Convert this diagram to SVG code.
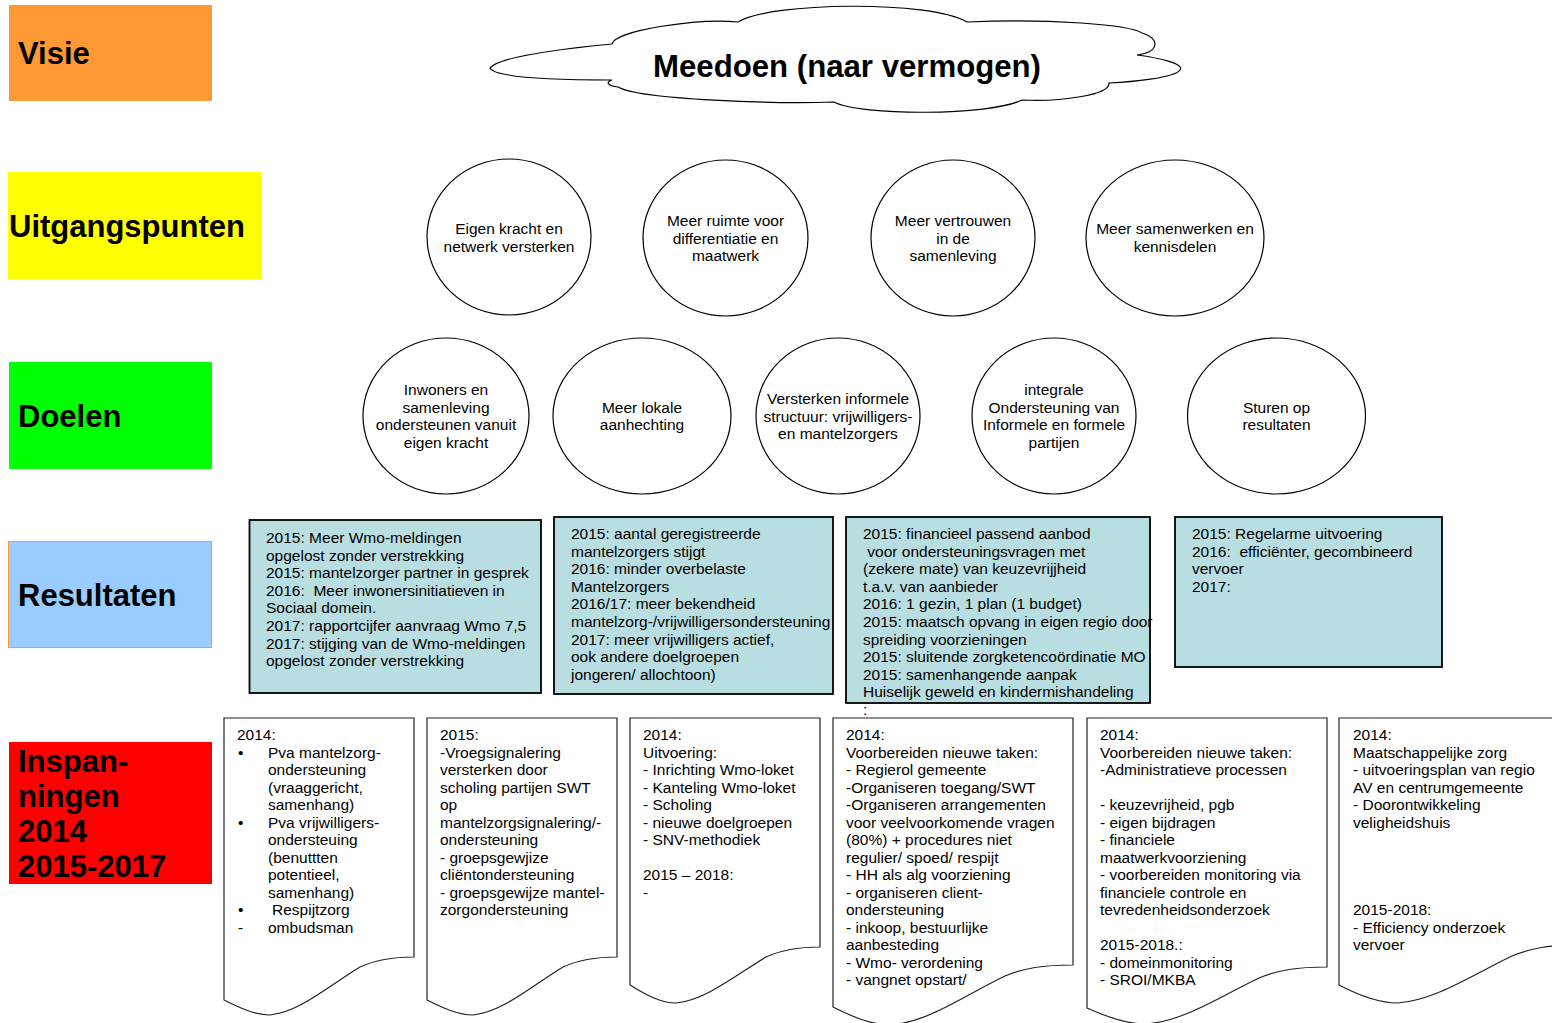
<svg xmlns="http://www.w3.org/2000/svg" width="1552" height="1023" viewBox="0 0 1552 1023">
<style>
.lbl{font-family:"Liberation Sans",Arial,sans-serif;font-weight:bold;font-size:31px;fill:#000}
.t{font-family:"Liberation Sans",Arial,sans-serif;font-size:15.5px;fill:#000}
.c{text-anchor:middle}
.circ{fill:#fff;stroke:#000;stroke-width:1.2}
.res{fill:#B9DEE2;stroke:#000;stroke-width:1.8}
.doc{fill:#fff;stroke:#222;stroke-width:1.2}
</style>
<rect width="1552" height="1023" fill="#fff"/>

<g id="label-visie"><rect x="9" y="5" width="203" height="96" fill="#FF9933"/><text class="lbl" x="18" y="64">Visie</text></g>
<g id="label-uitgangspunten"><rect x="8" y="172" width="254" height="107" fill="#FFFF00"/><text class="lbl" x="9" y="237">Uitgangspunten</text></g>
<g id="label-doelen"><rect x="9" y="362" width="203" height="107" fill="#00FF00"/><text class="lbl" x="18" y="427">Doelen</text></g>
<g id="label-resultaten"><rect x="8.5" y="541.5" width="203" height="106" fill="#99CCFF" stroke="#FF9933" stroke-width="1"/><text class="lbl" x="18" y="606">Resultaten</text></g>
<g id="label-inspanningen"><rect x="9" y="742" width="203" height="142" fill="#FF0000"/>
<text class="lbl" x="18"><tspan x="18" y="772">Inspan-</tspan><tspan x="18" y="807">ningen</tspan><tspan x="18" y="842">2014</tspan><tspan x="18" y="877">2015-2017</tspan></text></g>

<g id="visie-cloud">
<path fill="#fff" stroke="#000" stroke-width="1.2" d="M490,68 C500,56 570,48 612,44 C615,30 700,18 738,22 C770,2 930,0 967,22 C1050,18 1130,25 1142,33 C1160,38 1160,52 1137,55 C1160,58 1185,64 1180,70 C1175,78 1130,82 1109,83 C1110,95 1060,102 1022,100 C990,116 860,116 834,102 C780,104 640,100 618,87 C608,86 605,82 612,80 C560,80 495,78 490,68 Z"/>
<text class="lbl c" x="847" y="77" font-size="32" textLength="388" lengthAdjust="spacingAndGlyphs">Meedoen (naar vermogen)</text>
</g>

<g id="up1"><ellipse class="circ" cx="509" cy="237" rx="82" ry="78"/><text class="t c"><tspan x="509" y="234">Eigen kracht en</tspan><tspan x="509" y="252">netwerk versterken</tspan></text></g>
<g id="up2"><ellipse class="circ" cx="725.5" cy="238" rx="82.5" ry="78"/><text class="t c"><tspan x="725.5" y="226">Meer ruimte voor</tspan><tspan x="725.5" y="243.5">differentiatie en</tspan><tspan x="725.5" y="261">maatwerk</tspan></text></g>
<g id="up3"><ellipse class="circ" cx="953" cy="238" rx="82" ry="78"/><text class="t c"><tspan x="953" y="226">Meer vertrouwen</tspan><tspan x="953" y="243.5">in de</tspan><tspan x="953" y="261">samenleving</tspan></text></g>
<g id="up4"><ellipse class="circ" cx="1175" cy="238" rx="89" ry="78"/><text class="t c"><tspan x="1175" y="234">Meer samenwerken en</tspan><tspan x="1175" y="252">kennisdelen</tspan></text></g>

<g id="d1"><ellipse class="circ" cx="446" cy="416" rx="83" ry="78"/><text class="t c"><tspan x="446" y="395">Inwoners en</tspan><tspan x="446" y="412.5">samenleving</tspan><tspan x="446" y="430">ondersteunen vanuit</tspan><tspan x="446" y="447.5">eigen kracht</tspan></text></g>
<g id="d2"><ellipse class="circ" cx="642" cy="416" rx="89" ry="78"/><text class="t c"><tspan x="642" y="412.5">Meer lokale</tspan><tspan x="642" y="430">aanhechting</tspan></text></g>
<g id="d3"><ellipse class="circ" cx="838" cy="416" rx="82" ry="78"/><text class="t c"><tspan x="838" y="404">Versterken informele</tspan><tspan x="838" y="421.5">structuur: vrijwilligers-</tspan><tspan x="838" y="439">en mantelzorgers</tspan></text></g>
<g id="d4"><ellipse class="circ" cx="1054" cy="416" rx="82" ry="78"/><text class="t c"><tspan x="1054" y="395">integrale</tspan><tspan x="1054" y="412.5">Ondersteuning van</tspan><tspan x="1054" y="430">Informele en formele</tspan><tspan x="1054" y="447.5">partijen</tspan></text></g>
<g id="d5"><ellipse class="circ" cx="1276.5" cy="416" rx="89" ry="78"/><text class="t c"><tspan x="1276.5" y="412.5">Sturen op</tspan><tspan x="1276.5" y="430">resultaten</tspan></text></g>

<g id="r1"><rect class="res" x="249.5" y="520" width="291.5" height="173"/>
<text class="t" xml:space="preserve"><tspan x="266" y="543">2015: Meer Wmo-meldingen</tspan><tspan x="266" y="560.6">opgelost zonder verstrekking</tspan><tspan x="266" y="578.2">2015: mantelzorger partner in gesprek</tspan><tspan x="266" y="595.8">2016:  Meer inwonersinitiatieven in</tspan><tspan x="266" y="613.4">Sociaal domein.</tspan><tspan x="266" y="631">2017: rapportcijfer aanvraag Wmo 7,5</tspan><tspan x="266" y="648.6">2017: stijging van de Wmo-meldingen</tspan><tspan x="266" y="666.2">opgelost zonder verstrekking</tspan></text></g>
<g id="r2"><rect class="res" x="554" y="517" width="279" height="177"/>
<text class="t"><tspan x="571" y="539">2015: aantal geregistreerde</tspan><tspan x="571" y="556.6">mantelzorgers stijgt</tspan><tspan x="571" y="574.2">2016: minder overbelaste</tspan><tspan x="571" y="591.8">Mantelzorgers</tspan><tspan x="571" y="609.4">2016/17: meer bekendheid</tspan><tspan x="571" y="627">mantelzorg-/vrijwilligersondersteuning</tspan><tspan x="571" y="644.6">2017: meer vrijwilligers actief,</tspan><tspan x="571" y="662.2">ook andere doelgroepen</tspan><tspan x="571" y="679.8">jongeren/ allochtoon)</tspan></text></g>
<g id="r3"><rect class="res" x="846" y="517" width="304" height="186"/>
<text class="t" xml:space="preserve"><tspan x="863" y="539">2015: financieel passend aanbod</tspan><tspan x="863" y="556.6"> voor ondersteuningsvragen met</tspan><tspan x="863" y="574.2">(zekere mate) van keuzevrijjheid</tspan><tspan x="863" y="591.8">t.a.v. van aanbieder</tspan><tspan x="863" y="609.4">2016: 1 gezin, 1 plan (1 budget)</tspan><tspan x="863" y="627">2015: maatsch opvang in eigen regio door</tspan><tspan x="863" y="644.6">spreiding voorzieningen</tspan><tspan x="863" y="662.2">2015: sluitende zorgketencoördinatie MO</tspan><tspan x="863" y="679.8">2015: samenhangende aanpak</tspan><tspan x="863" y="697.4">Huiselijk geweld en kindermishandeling</tspan><tspan x="863" y="715">:</tspan></text></g>
<g id="r4"><rect class="res" x="1175" y="517" width="267" height="150"/>
<text class="t" xml:space="preserve"><tspan x="1192" y="539">2015: Regelarme uitvoering</tspan><tspan x="1192" y="556.6">2016:  efficiënter, gecombineerd</tspan><tspan x="1192" y="574.2">vervoer</tspan><tspan x="1192" y="591.8">2017:</tspan></text></g>

<g id="i1"><path class="doc" d="M224,718 H414 V957 C390,957 375,960 360,967 C330,985 300,1012 270,1015 C255,1015 240,1008 224,1000 Z"/>
<text class="t"><tspan x="237" y="740">2014:</tspan><tspan x="238" y="757.5">•</tspan><tspan x="268" y="757.5">Pva mantelzorg-</tspan><tspan x="268" y="775">ondersteuning</tspan><tspan x="268" y="792.5">(vraaggericht,</tspan><tspan x="268" y="810">samenhang)</tspan><tspan x="238" y="827.5">•</tspan><tspan x="268" y="827.5">Pva vrijwilligers-</tspan><tspan x="268" y="845">ondersteuing</tspan><tspan x="268" y="862.5">(benuttten</tspan><tspan x="268" y="880">potentieel,</tspan><tspan x="268" y="897.5">samenhang)</tspan><tspan x="238" y="915">•</tspan><tspan x="272" y="915">Respijtzorg</tspan><tspan x="238" y="932.5">-</tspan><tspan x="268" y="932.5">ombudsman</tspan></text></g>
<g id="i2"><path class="doc" d="M427,718 H617 V957 C593,957 578,960 563,967 C533,985 503,1012 473,1015 C458,1015 443,1008 427,1000 Z"/>
<text class="t"><tspan x="440" y="740">2015:</tspan><tspan x="440" y="757.5">-Vroegsignalering</tspan><tspan x="440" y="775">versterken door</tspan><tspan x="440" y="792.5">scholing partijen SWT</tspan><tspan x="440" y="810">op</tspan><tspan x="440" y="827.5">mantelzorgsignalering/-</tspan><tspan x="440" y="845">ondersteuning</tspan><tspan x="440" y="862.5">- groepsgewjize</tspan><tspan x="440" y="880">cliëntondersteuning</tspan><tspan x="440" y="897.5">- groepsgewijze mantel-</tspan><tspan x="440" y="915">zorgondersteuning</tspan></text></g>
<g id="i3"><path class="doc" d="M630,718 H820 V947 C796,947 781,950 766,957 C736,975 706,1000 676,1003 C661,1003 646,995 630,985 Z"/>
<text class="t"><tspan x="643" y="740">2014:</tspan><tspan x="643" y="757.5">Uitvoering:</tspan><tspan x="643" y="775">- Inrichting Wmo-loket</tspan><tspan x="643" y="792.5">- Kanteling Wmo-loket</tspan><tspan x="643" y="810">- Scholing</tspan><tspan x="643" y="827.5">- nieuwe doelgroepen</tspan><tspan x="643" y="845">- SNV-methodiek</tspan><tspan x="643" y="880">2015 – 2018:</tspan><tspan x="643" y="897.5">-</tspan></text></g>
<g id="i4"><path class="doc" d="M833,718 H1073 V965 C1043,965 1024,968 1005,976 C967,994 929,1022 891,1025 C872,1025 853,1017 833,1007 Z"/>
<text class="t"><tspan x="846" y="740">2014:</tspan><tspan x="846" y="757.5">Voorbereiden nieuwe taken:</tspan><tspan x="846" y="775">- Regierol gemeente</tspan><tspan x="846" y="792.5">-Organiseren toegang/SWT</tspan><tspan x="846" y="810">-Organiseren arrangementen</tspan><tspan x="846" y="827.5">voor veelvoorkomende vragen</tspan><tspan x="846" y="845">(80%) + procedures niet</tspan><tspan x="846" y="862.5">regulier/ spoed/ respijt</tspan><tspan x="846" y="880">- HH als alg voorziening</tspan><tspan x="846" y="897.5">- organiseren client-</tspan><tspan x="846" y="915">ondersteuning</tspan><tspan x="846" y="932.5">- inkoop, bestuurlijke</tspan><tspan x="846" y="950">aanbesteding</tspan><tspan x="846" y="967.5">- Wmo- verordening</tspan><tspan x="846" y="985">- vangnet opstart/</tspan></text></g>
<g id="i5"><path class="doc" d="M1087,718 H1327 V967 C1297,967 1278,970 1259,978 C1221,996 1183,1022 1145,1024 C1126,1024 1107,1017 1087,1008 Z"/>
<text class="t"><tspan x="1100" y="740">2014:</tspan><tspan x="1100" y="757.5">Voorbereiden nieuwe taken:</tspan><tspan x="1100" y="775">-Administratieve processen</tspan><tspan x="1100" y="810">- keuzevrijheid, pgb</tspan><tspan x="1100" y="827.5">- eigen bijdragen</tspan><tspan x="1100" y="845">- financiele</tspan><tspan x="1100" y="862.5">maatwerkvoorziening</tspan><tspan x="1100" y="880">- voorbereiden monitoring via</tspan><tspan x="1100" y="897.5">financiele controle en</tspan><tspan x="1100" y="915">tevredenheidsonderzoek</tspan><tspan x="1100" y="950">2015-2018.:</tspan><tspan x="1100" y="967.5">- domeinmonitoring</tspan><tspan x="1100" y="985">- SROI/MKBA</tspan></text></g>
<g id="i6"><path class="doc" d="M1339,718 H1580 V945 C1550,945 1531,948 1512,956 C1474,974 1436,1000 1398,1003 C1379,1003 1360,996 1339,985 Z"/>
<text class="t"><tspan x="1353" y="740">2014:</tspan><tspan x="1353" y="757.5">Maatschappelijke zorg</tspan><tspan x="1353" y="775">- uitvoeringsplan van regio</tspan><tspan x="1353" y="792.5">AV en centrumgemeente</tspan><tspan x="1353" y="810">- Doorontwikkeling</tspan><tspan x="1353" y="827.5">veligheidshuis</tspan><tspan x="1353" y="915">2015-2018:</tspan><tspan x="1353" y="932.5">- Efficiency onderzoek</tspan><tspan x="1353" y="950">vervoer</tspan></text></g>

<g id="connectors"></g>
</svg>
